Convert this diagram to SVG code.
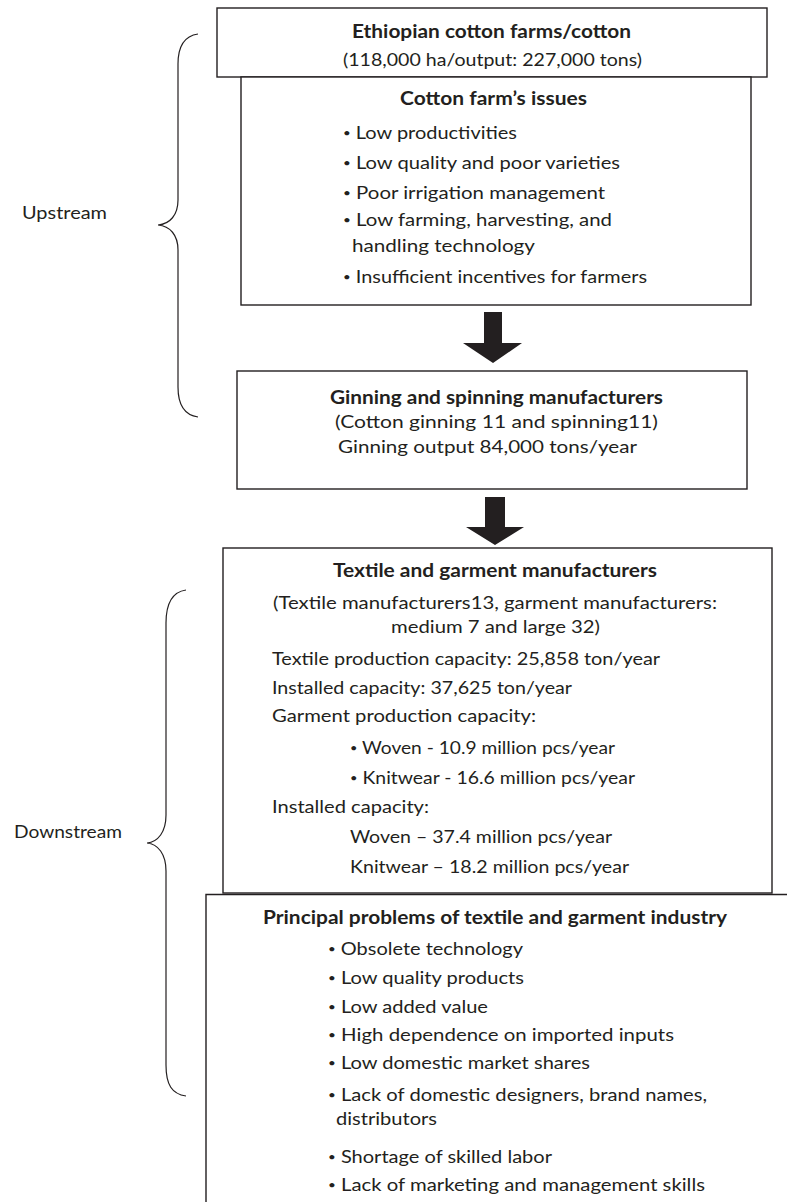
<svg xmlns="http://www.w3.org/2000/svg" width="787" height="1202" viewBox="0 0 787 1202">
  <style>
    .box { fill: #ffffff; stroke: #231f20; stroke-width: 1.4; }
    .edge { fill: none; stroke: #231f20; stroke-width: 1.4; }
    .brace { fill: none; stroke: #231f20; stroke-width: 1.2; }
    .arrow { fill: #231f20; stroke: none; }
    text { font-family: Lato, "Open Sans", "Liberation Sans", sans-serif; font-size: 18px; fill: #231f20; }
    .b { font-weight: 700; }
    .dot { font-size: 12px; }
  </style>
  <rect width="787" height="1202" fill="#ffffff"/>

  <!-- Section braces and labels -->
  <g id="section-upstream">
    <path class="brace" d="M198,34 C184,36 178,46 178,64 L178,200 C178,215 170,224 158,225 C170,226 178,235 178,250 L178,387 C178,405 184,415 198,417"/>
    <text x="22" y="219" textLength="85" lengthAdjust="spacingAndGlyphs">Upstream</text>
  </g>
  <g id="section-downstream">
    <path class="brace" d="M186,590 C172,592 166,603 166,623 L166,815 C166,832 158,842 147,843 C158,844 166,854 166,871 L166,1065 C166,1085 172,1094 186,1096"/>
    <text x="14" y="838" textLength="108" lengthAdjust="spacingAndGlyphs">Downstream</text>
  </g>

  <!-- Cotton farms -->
  <g id="node-cotton-farms">
    <rect class="box" x="217" y="8" width="550" height="69"/>
    <text class="b" x="352" y="38" textLength="279" lengthAdjust="spacingAndGlyphs">Ethiopian cotton farms/cotton</text>
    <text x="343" y="66" textLength="299" lengthAdjust="spacingAndGlyphs">(118,000 ha/output: 227,000 tons)</text>
  </g>

  <!-- Cotton farm issues -->
  <g id="node-farm-issues">
    <rect class="box" x="241" y="77" width="510" height="228"/>
    <text class="b" x="400" y="105" textLength="187" lengthAdjust="spacingAndGlyphs">Cotton farm’s issues</text>
    <text x="343" y="139" textLength="174" lengthAdjust="spacingAndGlyphs"><tspan class="dot" baseline-shift="2">•</tspan> Low productivities</text>
    <text x="343" y="169" textLength="277" lengthAdjust="spacingAndGlyphs"><tspan class="dot" baseline-shift="2">•</tspan> Low quality and poor varieties</text>
    <text x="343" y="199" textLength="262" lengthAdjust="spacingAndGlyphs"><tspan class="dot" baseline-shift="2">•</tspan> Poor irrigation management</text>
    <text x="343" y="226" textLength="269" lengthAdjust="spacingAndGlyphs"><tspan class="dot" baseline-shift="2">•</tspan> Low farming, harvesting, and</text>
    <text x="352" y="252" textLength="183" lengthAdjust="spacingAndGlyphs">handling technology</text>
    <text x="343" y="283" textLength="304" lengthAdjust="spacingAndGlyphs"><tspan class="dot" baseline-shift="2">•</tspan> Insufficient incentives for farmers</text>
  </g>

  <!-- Ginning and spinning -->
  <g id="node-ginning-spinning">
    <rect class="box" x="237" y="371" width="510" height="118"/>
    <text class="b" x="330" y="404" textLength="333" lengthAdjust="spacingAndGlyphs">Ginning and spinning manufacturers</text>
    <text x="335" y="428" textLength="323" lengthAdjust="spacingAndGlyphs">(Cotton ginning 11 and spinning11)</text>
    <text x="338" y="453" textLength="299" lengthAdjust="spacingAndGlyphs">Ginning output 84,000 tons/year</text>
  </g>

  <!-- Textile and garment -->
  <g id="node-textile-garment">
    <rect class="box" x="223" y="548" width="549" height="345"/>
    <text class="b" x="333" y="577" textLength="324" lengthAdjust="spacingAndGlyphs">Textile and garment manufacturers</text>
    <text x="273" y="609" textLength="444" lengthAdjust="spacingAndGlyphs">(Textile manufacturers13, garment manufacturers:</text>
    <text x="391" y="633" textLength="209" lengthAdjust="spacingAndGlyphs">medium 7 and large 32)</text>
    <text x="272" y="665" textLength="388" lengthAdjust="spacingAndGlyphs">Textile production capacity: 25,858 ton/year</text>
    <text x="272" y="694" textLength="300" lengthAdjust="spacingAndGlyphs">Installed capacity: 37,625 ton/year</text>
    <text x="272" y="722" textLength="264" lengthAdjust="spacingAndGlyphs">Garment production capacity:</text>
    <text x="350" y="754" textLength="265" lengthAdjust="spacingAndGlyphs"><tspan class="dot" baseline-shift="2">•</tspan> Woven - 10.9 million pcs/year</text>
    <text x="350" y="784" textLength="285" lengthAdjust="spacingAndGlyphs"><tspan class="dot" baseline-shift="2">•</tspan> Knitwear - 16.6 million pcs/year</text>
    <text x="272" y="813" textLength="157" lengthAdjust="spacingAndGlyphs">Installed capacity:</text>
    <text x="350" y="843" textLength="262" lengthAdjust="spacingAndGlyphs">Woven – 37.4 million pcs/year</text>
    <text x="350" y="873" textLength="279" lengthAdjust="spacingAndGlyphs">Knitwear – 18.2 million pcs/year</text>
  </g>

  <!-- Principal problems (open box running off the page) -->
  <g id="node-principal-problems">
    <path class="edge" d="M787,894.5 H206 V1202"/>
    <text class="b" x="263" y="924" textLength="464" lengthAdjust="spacingAndGlyphs">Principal problems of textile and garment industry</text>
    <text x="328" y="955" textLength="195" lengthAdjust="spacingAndGlyphs"><tspan class="dot" baseline-shift="2">•</tspan> Obsolete technology</text>
    <text x="328" y="984" textLength="196" lengthAdjust="spacingAndGlyphs"><tspan class="dot" baseline-shift="2">•</tspan> Low quality products</text>
    <text x="328" y="1013" textLength="160" lengthAdjust="spacingAndGlyphs"><tspan class="dot" baseline-shift="2">•</tspan> Low added value</text>
    <text x="328" y="1041" textLength="346" lengthAdjust="spacingAndGlyphs"><tspan class="dot" baseline-shift="2">•</tspan> High dependence on imported inputs</text>
    <text x="328" y="1069" textLength="262" lengthAdjust="spacingAndGlyphs"><tspan class="dot" baseline-shift="2">•</tspan> Low domestic market shares</text>
    <text x="328" y="1101" textLength="379" lengthAdjust="spacingAndGlyphs"><tspan class="dot" baseline-shift="2">•</tspan> Lack of domestic designers, brand names,</text>
    <text x="336" y="1125" textLength="101" lengthAdjust="spacingAndGlyphs">distributors</text>
    <text x="328" y="1163" textLength="224" lengthAdjust="spacingAndGlyphs"><tspan class="dot" baseline-shift="2">•</tspan> Shortage of skilled labor</text>
    <text x="328" y="1191" textLength="377" lengthAdjust="spacingAndGlyphs"><tspan class="dot" baseline-shift="2">•</tspan> Lack of marketing and management skills</text>
  </g>

  <!-- Block arrows between stages -->
  <g id="connectors">
    <path class="arrow" d="M484,312 H502 V343 H522 L493,363 L463,343 H484 Z"/>
    <path class="arrow" d="M485,497 H505 V527 H524 L495,545 L466,527 H485 Z"/>
  </g>
</svg>
